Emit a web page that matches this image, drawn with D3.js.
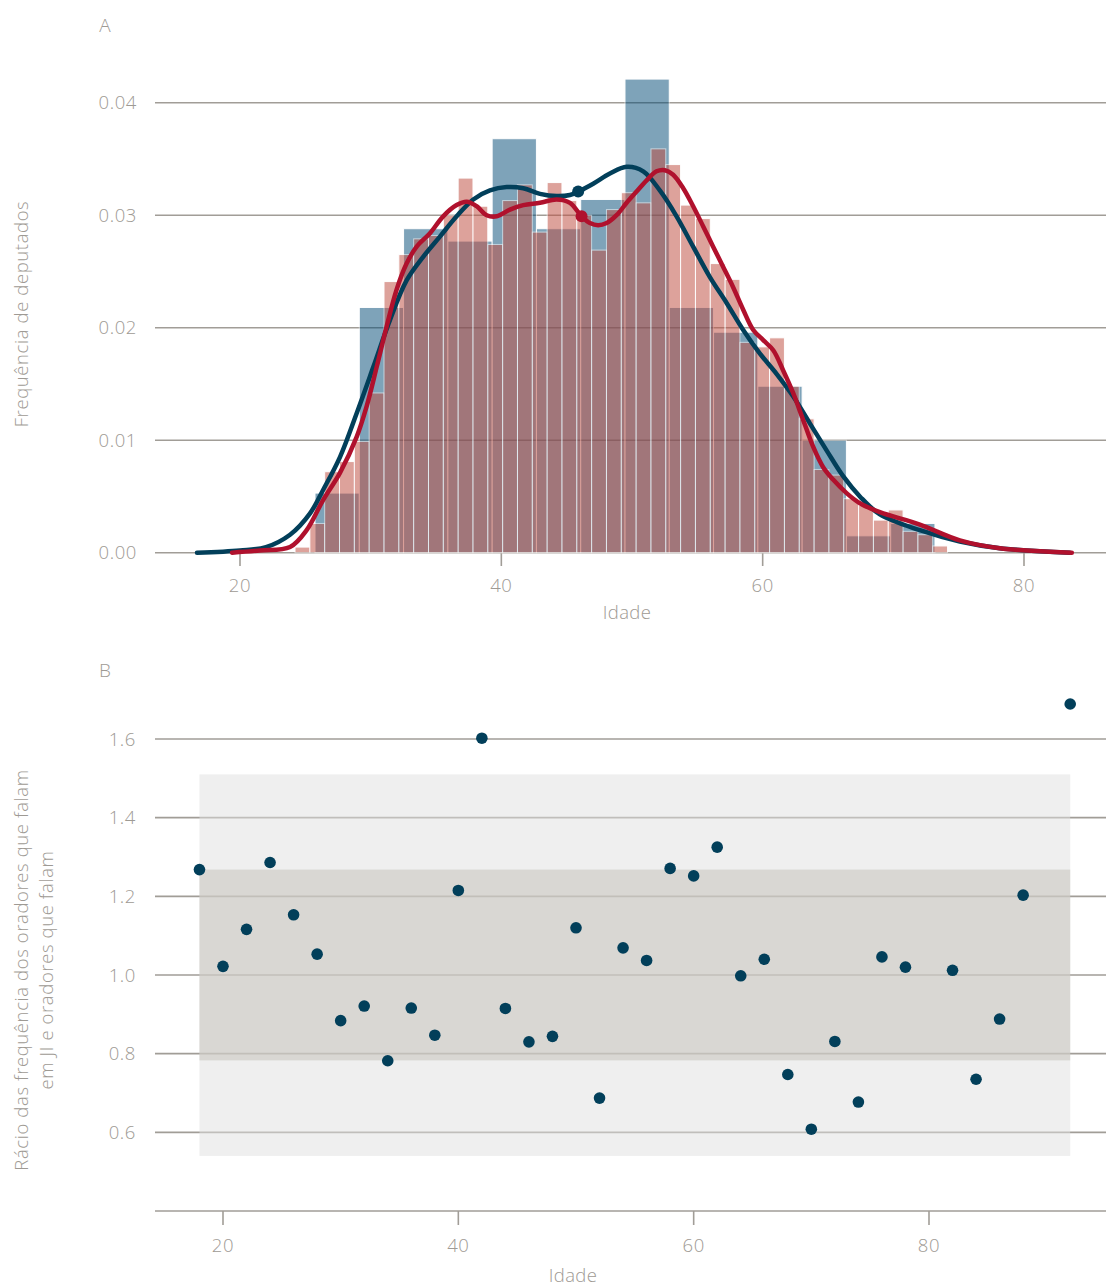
<!DOCTYPE html>
<html><head><meta charset="utf-8">
<script src="https://cdn.jsdelivr.net/npm/d3@7/dist/d3.min.js"></script>
<style>
html,body{margin:0;padding:0;background:#fff;}
text{font-family:"Open Sans",Lato,sans-serif;font-weight:300;fill:#9e9a94;}
</style></head>
<body>
<svg id="chart" width="1106" height="1288"></svg>
<script>
// ---------- Panel A data ----------
const blueBinStart = 25.74, blueBinWidth = 3.389;
const blueHist = [0.0053,0.0218,0.0288,0.0277,0.0368,0.0288,0.0314,0.0421,0.0218,0.0196,0.0148,0.0100,0.0015,0.0026];
const redBinStart = 24.21, redBinWidth = 1.135;
const redHist = [0.0005,0.0026,0.0072,0.0081,0.0099,0.0142,0.0241,0.0265,0.0279,0.0282,
  0.0300,0.0333,0.0308,0.0274,0.0313,0.0327,0.0285,0.0329,0.0313,0.0300,
  0.0269,0.0305,0.0320,0.0311,0.0359,0.0345,0.0309,0.0297,0.0257,0.0243,
  0.0187,0.0183,0.0191,0.0148,0.0119,0.0074,0.0069,0.0048,0.0042,0.0029,
  0.0038,0.0019,0.0016,0.0006];
const blueKdeAge = [16.71,20.0,21.99,23.83,25.36,26.37,27.65,28.93,30.20,31.48,32.75,34.02,35.30,36.58,37.85,39.13,40.41,41.68,42.96,44.23,45.25,45.88,47.03,48.31,49.59,50.86,52.13,53.41,54.68,55.96,57.24,58.51,59.79,61.06,62.33,63.61,64.89,66.16,67.44,68.97,72.03,75.09,78.15,83.50];
const blueKdeVal = [0,0.0002,0.0005,0.0016,0.0035,0.0056,0.0085,0.0124,0.0165,0.0207,0.0242,0.0263,0.0281,0.0299,0.0314,0.0322,0.0325,0.0324,0.0319,0.0317,0.0318,0.0321,0.0328,0.0337,0.0343,0.0339,0.0322,0.0299,0.0272,0.0245,0.0222,0.0198,0.0177,0.0159,0.0139,0.0115,0.0091,0.0068,0.0050,0.0034,0.0020,0.0010,0.0004,0.0];
const redKdeAge = [19.39,21.53,23.83,25.10,26.37,27.65,28.93,29.69,30.46,31.22,31.99,32.75,33.52,34.54,35.55,36.58,37.35,38.11,38.88,39.64,40.66,41.68,42.96,44.23,45.25,46.14,46.78,47.41,48.06,48.82,49.59,50.35,51.12,51.88,52.52,53.15,53.92,54.68,55.45,56.21,56.98,57.74,58.51,59.28,60.04,60.81,61.57,62.33,63.10,63.87,64.63,65.39,66.42,67.44,68.97,72.03,75.09,78.15,83.66];
const redKdeVal = [0,0.0002,0.0005,0.0020,0.0047,0.0071,0.0103,0.0130,0.0165,0.0201,0.0234,0.0257,0.0272,0.0284,0.0299,0.0309,0.0312,0.0308,0.0300,0.0299,0.0305,0.0309,0.0311,0.0314,0.0311,0.0299,0.0293,0.0291,0.0293,0.0300,0.0311,0.0321,0.0331,0.0339,0.0340,0.0336,0.0324,0.0308,0.0290,0.0272,0.0254,0.0236,0.0216,0.0198,0.0189,0.0180,0.0162,0.0142,0.0118,0.0094,0.0076,0.0065,0.0053,0.0044,0.0036,0.0025,0.0011,0.0004,0];
const blueMarker = [45.88, 0.0321];
const redMarker = [46.14, 0.0299];
const topYTicks = [0, 0.01, 0.02, 0.03, 0.04];
const topYTickLabels = ["0.00","0.01","0.02","0.03","0.04"];
const xTicks = [20, 40, 60, 80];

// ---------- Panel B data ----------
const ratioAges = [18,20,22,24,26,28,30,32,34,36,38,40,42,44,46,48,50,52,54,56,58,60,62,64,66,68,70,72,74,76,78,82,84,86,88,92];
const ratioVals = [1.268,1.022,1.116,1.286,1.153,1.053,0.884,0.921,0.782,0.916,0.847,1.215,1.602,0.915,0.830,0.844,1.120,0.687,1.069,1.037,1.271,1.252,1.325,0.998,1.040,0.747,0.608,0.831,0.677,1.046,1.020,1.012,0.735,0.888,1.203,1.689];
const bandAges = [18, 92];
const outerBand = [0.54, 1.51];
const innerBand = [0.783, 1.268];
const botYTicks = [0.6, 0.8, 1.0, 1.2, 1.4, 1.6];
const botYTickLabels = ["0.6","0.8","1.0","1.2","1.4","1.6"];

const svg = d3.select("#chart");
const gridColor = "#a19d97";
const left = 155, right = 1106;
const fs = 18.5;

// ===== Panel A =====
const xA = d3.scaleLinear().domain([20, 80]).range([240, 1024]);
const yA = d3.scaleLinear().domain([0, 0.04]).range([552.7, 102.7]);
const gA = svg.append("g");

gA.selectAll("line.grid").data(topYTicks).join("line")
  .attr("x1", left).attr("x2", right)
  .attr("y1", d => yA(d)).attr("y2", d => yA(d))
  .attr("stroke", gridColor).attr("stroke-width", 1.6);
gA.selectAll("text.yt").data(topYTicks).join("text")
  .attr("x", 137).attr("y", d => yA(d) + 6.5)
  .attr("text-anchor", "end").attr("font-size", fs).attr("letter-spacing", 0.6)
  .text((d, i) => topYTickLabels[i]);

gA.selectAll("line.xt").data(xTicks).join("line")
  .attr("x1", d => xA(d)).attr("x2", d => xA(d))
  .attr("y1", 553).attr("y2", 566)
  .attr("stroke", gridColor).attr("stroke-width", 1.6);
gA.selectAll("text.xt").data(xTicks).join("text")
  .attr("x", d => xA(d)).attr("y", 592)
  .attr("text-anchor", "middle").attr("font-size", fs).attr("letter-spacing", 0.6)
  .text(d => d);

const blueBars = blueHist.map((v, i) => ({x0: blueBinStart + i * blueBinWidth, x1: blueBinStart + (i + 1) * blueBinWidth, v}));
const redBars = redHist.map((v, i) => ({x0: redBinStart + i * redBinWidth, x1: redBinStart + (i + 1) * redBinWidth, v}));
gA.append("g").selectAll("rect").data(blueBars).join("rect")
  .attr("x", d => xA(d.x0)).attr("width", d => xA(d.x1) - xA(d.x0))
  .attr("y", d => yA(d.v)).attr("height", d => yA(0) - yA(d.v))
  .attr("fill", "rgb(0,73,117)").attr("stroke", "#fff").attr("stroke-width", 1)
  .attr("opacity", 0.5);
gA.append("g").selectAll("rect").data(redBars).join("rect")
  .attr("x", d => xA(d.x0)).attr("width", d => xA(d.x1) - xA(d.x0))
  .attr("y", d => yA(d.v)).attr("height", d => yA(0) - yA(d.v))
  .attr("fill", "rgb(192,80,68)").attr("stroke", "#fff").attr("stroke-width", 1)
  .attr("opacity", 0.53);

const line = d3.line().x(d => xA(d[0])).y(d => yA(d[1])).curve(d3.curveCatmullRom);
const blueColor = "#023f5a", redColor = "#b0112d";
gA.append("path").datum(blueKdeAge.map((a, i) => [a, blueKdeVal[i]]))
  .attr("d", line).attr("fill", "none").attr("stroke", blueColor)
  .attr("stroke-width", 4.5).attr("stroke-linecap", "round").attr("stroke-linejoin", "round");
gA.append("path").datum(redKdeAge.map((a, i) => [a, redKdeVal[i]]))
  .attr("d", line).attr("fill", "none").attr("stroke", redColor)
  .attr("stroke-width", 4.5).attr("stroke-linecap", "round").attr("stroke-linejoin", "round");
gA.append("circle").attr("cx", xA(blueMarker[0])).attr("cy", yA(blueMarker[1])).attr("r", 6).attr("fill", blueColor);
gA.append("circle").attr("cx", xA(redMarker[0])).attr("cy", yA(redMarker[1])).attr("r", 6).attr("fill", redColor);

gA.append("text").attr("x", 105).attr("y", 32).attr("text-anchor", "middle").attr("font-size", 19).text("A");
gA.append("text").attr("x", 627).attr("y", 619).attr("text-anchor", "middle").attr("font-size", fs).attr("letter-spacing", 0.4).text("Idade");
gA.append("text").attr("transform", "translate(28,314) rotate(-90)").attr("text-anchor", "middle")
  .attr("font-size", fs).attr("letter-spacing", 0.6).text("Frequência de deputados");

// ===== Panel B =====
const xB = d3.scaleLinear().domain([20, 80]).range([223, 929]);
const yB = d3.scaleLinear().domain([0.4, 1.6]).range([1211, 739]);
const gB = svg.append("g");

gB.selectAll("line.grid").data(botYTicks).join("line")
  .attr("x1", left).attr("x2", right)
  .attr("y1", d => yB(d)).attr("y2", d => yB(d))
  .attr("stroke", gridColor).attr("stroke-width", 1.6);
gB.append("rect")
  .attr("x", xB(bandAges[0])).attr("width", xB(bandAges[1]) - xB(bandAges[0]))
  .attr("y", yB(outerBand[1])).attr("height", yB(outerBand[0]) - yB(outerBand[1]))
  .attr("fill", "rgb(223,223,223)").attr("opacity", 0.5);
gB.append("rect")
  .attr("x", xB(bandAges[0])).attr("width", xB(bandAges[1]) - xB(bandAges[0]))
  .attr("y", yB(innerBand[1])).attr("height", yB(innerBand[0]) - yB(innerBand[1]))
  .attr("fill", "rgb(195,191,183)").attr("opacity", 0.5);

gB.selectAll("text.yt").data(botYTicks).join("text")
  .attr("x", 136).attr("y", d => yB(d) + 6.5)
  .attr("text-anchor", "end").attr("font-size", fs).attr("letter-spacing", 0.6)
  .text((d, i) => botYTickLabels[i]);

gB.append("line").attr("x1", left).attr("x2", right).attr("y1", yB(0.4)).attr("y2", yB(0.4))
  .attr("stroke", gridColor).attr("stroke-width", 1.6);
gB.selectAll("line.xt").data(xTicks).join("line")
  .attr("x1", d => xB(d)).attr("x2", d => xB(d))
  .attr("y1", yB(0.4)).attr("y2", yB(0.4) + 14)
  .attr("stroke", gridColor).attr("stroke-width", 1.6);
gB.selectAll("text.xt").data(xTicks).join("text")
  .attr("x", d => xB(d)).attr("y", 1252)
  .attr("text-anchor", "middle").attr("font-size", fs).attr("letter-spacing", 0.6)
  .text(d => d);

gB.selectAll("circle").data(ratioAges).join("circle")
  .attr("cx", d => xB(d)).attr("cy", (d, i) => yB(ratioVals[i]))
  .attr("r", 5.8).attr("fill", blueColor);

gB.append("text").attr("x", 105).attr("y", 677).attr("text-anchor", "middle").attr("font-size", 19).attr("font-weight", 400).text("B");
gB.append("text").attr("x", 573).attr("y", 1282).attr("text-anchor", "middle").attr("font-size", fs).attr("letter-spacing", 0.4).text("Idade");
const yt = gB.append("text").attr("transform", "translate(28,970) rotate(-90)").attr("text-anchor", "middle")
  .attr("font-size", fs).attr("letter-spacing", 0.6);
yt.append("tspan").attr("x", 0).attr("dy", 0).text("Rácio das frequência dos oradores que falam");
yt.append("tspan").attr("x", 0).attr("dy", 25).text("em JI e oradores que falam");
</script>
</body></html>
